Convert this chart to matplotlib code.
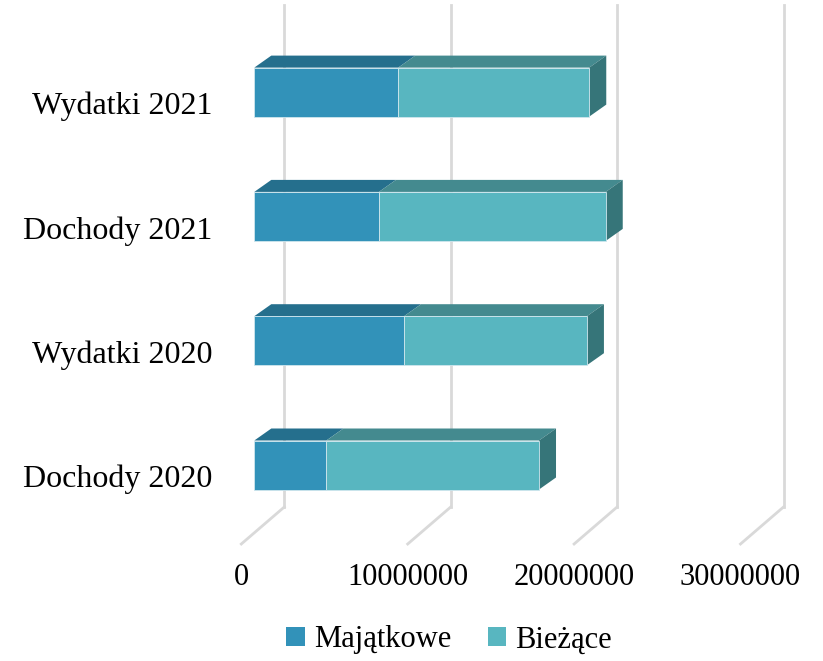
import matplotlib
matplotlib.use("Agg")
import matplotlib.pyplot as plt
from matplotlib.patches import Polygon, Patch
from matplotlib.transforms import ScaledTranslation, blended_transform_factory
import numpy as np

categories = ["Dochody 2020", "Wydatki 2020", "Dochody 2021", "Wydatki 2021"]
majatkowe = [4.33e6, 9.0e6, 7.49e6, 8.65e6]
biezace = [12.78e6, 10.99e6, 13.63e6, 11.48e6]
series_names = ["Majątkowe", "Bieżące"]
xticks = [0, 10000000, 20000000, 30000000]

W, H, DPI = 823, 661, 100
fig = plt.figure(figsize=(W / DPI, H / DPI), dpi=DPI)
plt.rcParams['font.family'] = ['Liberation Serif', 'DejaVu Serif']

# axes placement (pixels from top-left)
x0_px = 254.3
px_per_M = 16.64
bot_px, top_px = 544, 5
xmax = (W - x0_px) / px_per_M * 1e6
ax = fig.add_axes([x0_px / W, 1 - bot_px / H, (W - x0_px) / W, (bot_px - top_px) / H])
ax.set_xlim(0, xmax)
cat_px = 124.3
ymin = -(bot_px - 465) / cat_px
ax.set_ylim(ymin, ymin + (bot_px - top_px) / cat_px)
for s in ax.spines.values():
    s.set_visible(False)
ax.set_facecolor('none')

def off(dx_px, dy_px, base=None):
    base = ax.transData if base is None else base
    return base + ScaledTranslation(dx_px / DPI, dy_px / DPI, fig.dpi_scale_trans)

# gridlines: vertical at back wall (+30px), diagonal down to front-left
grid_c = '#D9D9D9'
bl = blended_transform_factory(ax.transData, ax.transAxes)
inv = ax.transData.inverted()
for v in xticks:
    ax.plot([v, v], [(bot_px - 507) / (bot_px - top_px), 1.0], color=grid_c, lw=2,
            transform=off(30, 0, bl), clip_on=False, zorder=1)
    px = ax.transData.transform((v, 0))[0]
    a = inv.transform((px + 30, H - 507))
    b = inv.transform((px - 13, H - 544))
    ax.plot([a[0], b[0]], [a[1], b[1]], color=grid_c, lw=2, clip_on=False, zorder=1)

fronts = ['#3292B9', '#58B6C0']
tops = ['#256F8D', '#448A8F']
sides = ['#256F8D', '#367579']
h = 49 / cat_px / 2
DX, DY = 17, 12
ys = np.arange(len(categories))
for i, y in enumerate(ys):
    left = 0
    vals = [majatkowe[i], biezace[i]]
    for k, v in enumerate(vals):
        right = left + v
        pts = np.array([[left, y + h], [right, y + h]])
        back = inv.transform(ax.transData.transform(pts) + np.array([DX, DY]))
        ax.add_patch(Polygon([pts[0], pts[1], back[1], back[0]], closed=True,
                             facecolor=tops[k], edgecolor='none', zorder=2))
        ax.add_patch(Polygon([(left, y - h), (right, y - h), (right, y + h), (left, y + h)],
                             closed=True, facecolor=fronts[k], edgecolor='#cfe6ee', lw=0.6, zorder=3))
        left = right
    pts = np.array([[left, y - h], [left, y + h]])
    back = inv.transform(ax.transData.transform(pts) + np.array([DX, DY]))
    ax.add_patch(Polygon([pts[0], pts[1], back[1], back[0]], closed=True,
                         facecolor=sides[1], edgecolor='none', zorder=2))

ax.set_yticks(ys)
ax.set_yticklabels(categories, fontsize=23)
ax.tick_params(axis='y', length=0, pad=30)
for lab in ax.get_yticklabels():
    lab.set_transform(off(0, -11, lab.get_transform()))
ax.set_xticks(xticks)
ax.set_xticklabels([str(v) for v in xticks], fontsize=22)
ax.tick_params(axis='x', length=0, pad=14)
for lab in ax.get_xticklabels():
    lab.set_transform(off(-13, 0, lab.get_transform()))

handles = [Patch(facecolor=fronts[0], label=series_names[0]),
           Patch(facecolor=fronts[1], label=series_names[1])]
fig.legend(handles=handles, loc='center', bbox_to_anchor=(449 / W, 1 - 640 / H), ncol=2,
           frameon=False, fontsize=22, handlelength=0.6, handleheight=0.6,
           handletextpad=0.3, columnspacing=1.2)

fig.savefig('out.png', dpi=DPI)
